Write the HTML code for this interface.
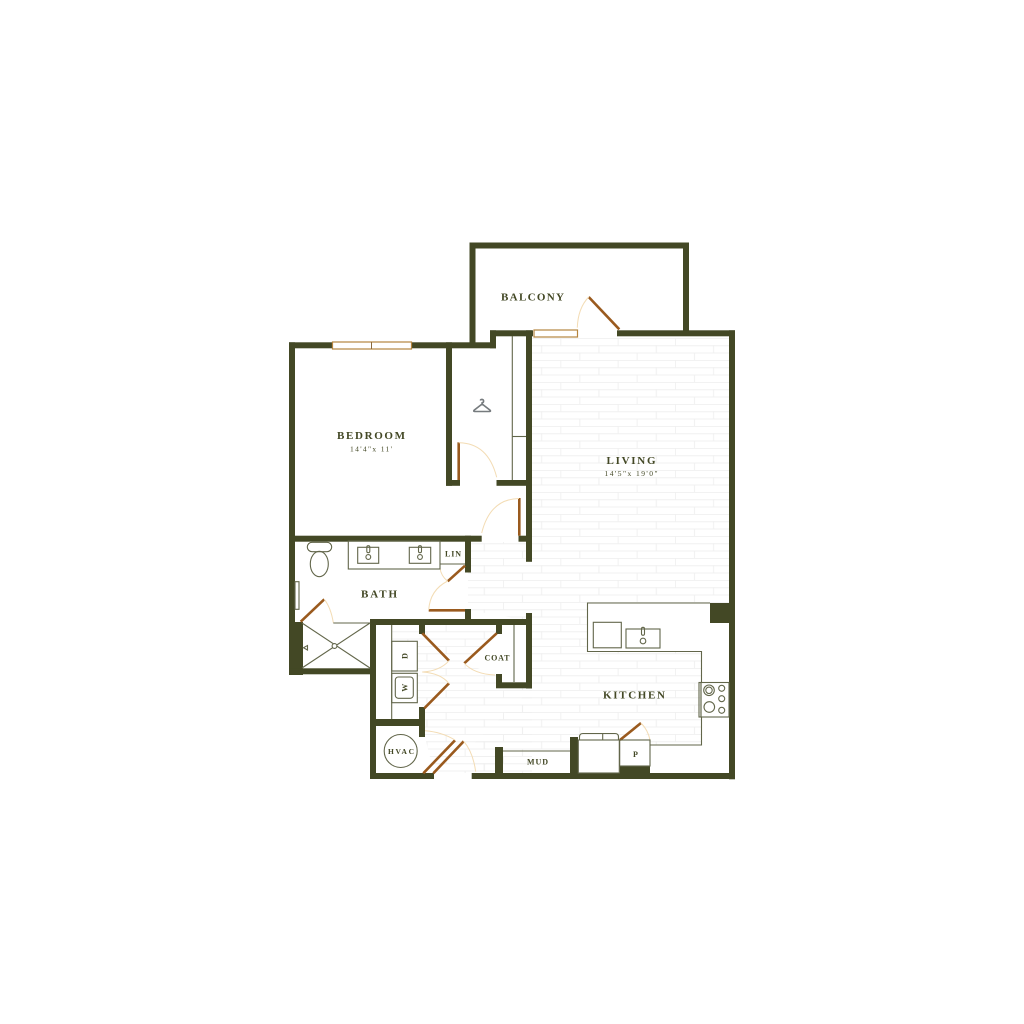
<!DOCTYPE html>
<html><head><meta charset="utf-8"><style>
html,body{margin:0;padding:0;background:#fff}
svg{display:block}
text{font-family:"Liberation Serif",serif;fill:#434825;font-weight:bold;text-anchor:middle}
.w{fill:#434825}
.l{fill:none;stroke:#62664a;stroke-width:1.1}
.d{stroke:#9a5a1e;stroke-width:2.6;fill:none}
.a{fill:none;stroke:#f3dcb4;stroke-width:1}
.win{fill:#fff;stroke:#b5853f;stroke-width:1.2}
</style></head><body>
<svg width="1024" height="1024" viewBox="0 0 1024 1024" xmlns="http://www.w3.org/2000/svg">
<defs>
<pattern id="tile" patternUnits="userSpaceOnUse" x="503" y="338" width="57.33" height="22">
<g stroke="#f0f0f0" stroke-width="1">
<line x1="0" y1="0.4" x2="57.33" y2="0.4"/><line x1="0" y1="7.7" x2="57.33" y2="7.7"/><line x1="0" y1="15" x2="57.33" y2="15"/>
<line x1="0.4" y1="0" x2="0.4" y2="7.33"/><line x1="38.6" y1="7.33" x2="38.6" y2="14.67"/><line x1="19.5" y1="14.67" x2="19.5" y2="22"/>
</g>
</pattern>
</defs>
<rect width="1024" height="1024" fill="#fff"/>

<!-- tile floors -->
<g fill="url(#tile)">
<polygon points="532,338 729,338 729,603 587.5,603 587.5,651.5 701.5,651.5 701.5,745 650,745 641,723 620,740 578,740 570,737 570,751 503,751 503,747 495,747 495,773 472,773 472,745 532,688 532,625 526,613 526,561 532,561"/>
<polygon points="482,542 518,542 526,542 526,620 468,610 468,572 471,572 471,542"/>
<polygon points="392,625 496,625 496,634 464,663 496,675 496,688 532,688 532,773 434,773 425,737 425,707 417,702 417,641 392,641"/>
</g>

<!-- walls -->
<g class="w">
<rect x="289" y="342.3" width="6" height="332.7"/>
<rect x="289" y="342.3" width="207" height="6"/>
<rect x="469.5" y="242.5" width="6" height="105"/>
<rect x="469.5" y="242.5" width="219.5" height="6"/>
<rect x="683" y="242.5" width="6" height="93"/>
<rect x="617" y="330.3" width="118" height="6"/>
<rect x="729" y="330.3" width="6" height="449"/>
<rect x="490" y="330.3" width="43" height="6"/>
<rect x="490" y="330.3" width="6" height="18"/>
<rect x="526" y="330.3" width="6" height="231.5"/>
<rect x="446" y="342.3" width="6" height="143.5"/>
<rect x="446" y="480" width="14" height="5.8"/>
<rect x="496.5" y="480" width="35" height="5.8"/>
<rect x="289" y="535.7" width="192.7" height="6"/>
<rect x="518.5" y="535.7" width="13" height="6"/>
<rect x="465" y="535.7" width="6" height="36.8"/>
<rect x="465" y="609" width="6" height="12"/>
<rect x="370" y="619" width="162" height="6"/>
<rect x="526" y="613" width="6" height="75.5"/>
<rect x="496" y="682.3" width="36" height="6"/>
<rect x="496" y="674" width="6" height="14"/>
<rect x="419" y="622" width="6" height="12"/>
<rect x="496" y="622" width="6" height="12"/>
<rect x="370" y="619" width="6" height="160"/>
<rect x="370" y="773" width="64" height="6"/>
<rect x="471.7" y="773" width="263" height="6"/>
<rect x="370" y="719" width="55" height="7"/>
<rect x="419" y="707" width="6" height="30"/>
<rect x="495" y="747" width="8" height="26"/>
<rect x="570" y="737" width="8" height="36"/>
<rect x="289" y="622" width="14" height="53"/>
<rect x="289" y="668.3" width="81" height="6"/>
<rect x="710" y="603" width="19" height="20"/>
<rect x="619.7" y="766" width="30.3" height="7"/>
</g>

<!-- windows -->
<rect class="win" x="332.5" y="342" width="79" height="7"/>
<line x1="371.5" y1="342" x2="371.5" y2="349" stroke="#8a6a3c" stroke-width="1"/>
<rect class="win" x="534" y="330" width="43.5" height="7"/>

<!-- door leaves -->
<g class="d">
<line x1="588.7" y1="297" x2="619.3" y2="329.3"/>
<line x1="458.7" y1="442.3" x2="458.7" y2="480"/>
<line x1="519.3" y1="498" x2="519.3" y2="535.7"/>
<line x1="300.7" y1="621.7" x2="324.3" y2="599.3"/>
<line x1="465" y1="565.7" x2="447.7" y2="581.3"/>
<line x1="428.7" y1="610.3" x2="465" y2="610.3"/>
<line x1="422.3" y1="633.3" x2="449" y2="660.7"/>
<line x1="496.7" y1="633.3" x2="464.3" y2="663.3"/>
<line x1="424.3" y1="708.3" x2="449" y2="683.3"/>
<line x1="423.3" y1="773.3" x2="455" y2="740.3"/>
<line x1="433.3" y1="773.3" x2="463.7" y2="741.3"/>
<line x1="620" y1="740" x2="641" y2="723"/>
</g>

<!-- door arcs -->
<g class="a">
<path d="M588.7 297Q578 308 577.3 327.7"/>
<path d="M458.7 442.8Q488 443 496.7 477.3"/>
<path d="M519 498.5Q490 499 481.7 533"/>
<path d="M324.3 599.3Q331 608 333.3 622.7"/>
<path d="M447.7 581.3Q441 576 440 568"/>
<path d="M428.7 610Q430 590 447.7 581"/>
<path d="M449 660.7Q440 671 422.3 672"/>
<path d="M449 683.3Q440 673 422.3 672"/>
<path d="M464.3 663.3Q474 674 495 675"/>
<path d="M455 740Q442 732 425 730.7"/>
<path d="M463.7 741.3Q473 752 475.7 771.7"/>
<path d="M641 723Q648 730 650 740"/>
</g>

<!-- closet / laundry / coat fixtures -->
<g class="l">
<line x1="512.3" y1="336" x2="512.3" y2="480"/>
<line x1="512.3" y1="436.5" x2="526" y2="436.5"/>
<line x1="391.7" y1="625" x2="391.7" y2="719"/>
<rect x="391.7" y="641.3" width="25.6" height="29.7"/>
<rect x="391.7" y="673.3" width="25.6" height="29.4"/>
<rect x="395.3" y="677" width="18" height="21.3" rx="3"/>
<line x1="514" y1="625" x2="514" y2="682"/>
<circle cx="400.7" cy="751" r="16.5"/>
<line x1="503" y1="751" x2="570" y2="751"/>

<!-- bath -->
<rect x="348.3" y="541" width="91.7" height="28"/>
<polyline points="440,564 465,564"/>
<rect x="357.7" y="547.3" width="21" height="16"/>
<rect x="409.3" y="547.3" width="21.4" height="16"/>
<rect x="366.8" y="545.7" width="3" height="7" rx="1.5"/>
<rect x="418.5" y="545.7" width="3" height="7" rx="1.5"/>
<circle cx="368.3" cy="557" r="2.4"/>
<circle cx="420" cy="557" r="2.4"/>
<rect x="307.3" y="542.3" width="24.4" height="9.4" rx="4.7"/>
<ellipse cx="319.3" cy="564" rx="9" ry="12.7"/>
<rect x="295" y="581.7" width="4" height="27.6"/>

<!-- shower -->
<line x1="333.3" y1="623" x2="370" y2="623"/>
<line x1="302" y1="623" x2="370" y2="668"/>
<line x1="370" y1="623" x2="302" y2="668"/>
<circle cx="334.5" cy="646" r="2.4" fill="#fff"/>
<polygon points="303.5,647.7 307.5,645.5 307.5,650"/>

<!-- kitchen -->
<polyline points="710,603 587.5,603 587.5,651.5 701.5,651.5 701.5,745 650,745"/>
<rect x="593.3" y="622.3" width="28" height="25.5"/>
<rect x="626" y="629" width="34" height="19"/>
<rect x="641.5" y="627.3" width="3" height="8" rx="1.5"/>
<circle cx="643" cy="641" r="2.8"/>
<rect x="578.3" y="740" width="41" height="33"/>
<path d="M579.5 740V737Q579.5 733.5 583 733.5H615Q618.5 733.5 618.5 737V740"/>
<line x1="602.7" y1="733.5" x2="602.7" y2="740"/>
<rect x="619.7" y="740" width="30.3" height="26"/>
<rect x="701" y="682.5" width="28" height="34.5" fill="#fff"/>
<rect x="699" y="682.5" width="2" height="34.5"/>
<circle cx="709" cy="690.3" r="5.3"/>
<circle cx="709" cy="690.3" r="3.2"/>
<circle cx="709.3" cy="707" r="5.3"/>
<circle cx="721.7" cy="688.3" r="3"/>
<circle cx="721.7" cy="698.7" r="3"/>
<circle cx="721.7" cy="710.3" r="3"/>
</g>

<!-- hanger -->
<g fill="none" stroke="#767b7e" stroke-width="1.6">
<path d="M480.3 400.5a1.7 1.7 0 1 1 1.8 2.3v1.2l8 6.2q1 1.2-.5 1.3h-15q-1.5-.1-.5-1.3l8-6.2"/>
</g>

<!-- labels -->
<text x="532.5" y="300.5" font-size="11" textLength="63" lengthAdjust="spacing">BALCONY</text>
<text x="371" y="439" font-size="11" textLength="68" lengthAdjust="spacing">BEDROOM</text>
<text x="371" y="451.5" font-size="7.5" textLength="42" lengthAdjust="spacing" style="font-weight:normal">14'4"x 11'</text>
<text x="631" y="464" font-size="11" textLength="49" lengthAdjust="spacing">LIVING</text>
<text x="631" y="476" font-size="7.5" textLength="53" lengthAdjust="spacing" style="font-weight:normal">14'5"x 19'0"</text>
<text x="379" y="597.5" font-size="11" textLength="36" lengthAdjust="spacing">BATH</text>
<text x="453" y="556.5" font-size="8" textLength="16" lengthAdjust="spacing">LIN</text>
<text x="497" y="660.5" font-size="8" textLength="25" lengthAdjust="spacing">COAT</text>
<text x="634" y="698.5" font-size="11" textLength="62" lengthAdjust="spacing">KITCHEN</text>
<text x="537.5" y="764.5" font-size="8" textLength="21" lengthAdjust="spacing">MUD</text>
<text x="635.5" y="757" font-size="8">P</text>
<text x="401" y="754" font-size="7.5" textLength="26" lengthAdjust="spacing">HVAC</text>
<text transform="translate(404.5 656) rotate(-90)" y="3" font-size="8">D</text>
<text transform="translate(404.5 687.7) rotate(-90)" y="3" font-size="8">W</text>
</svg>
</body></html>
